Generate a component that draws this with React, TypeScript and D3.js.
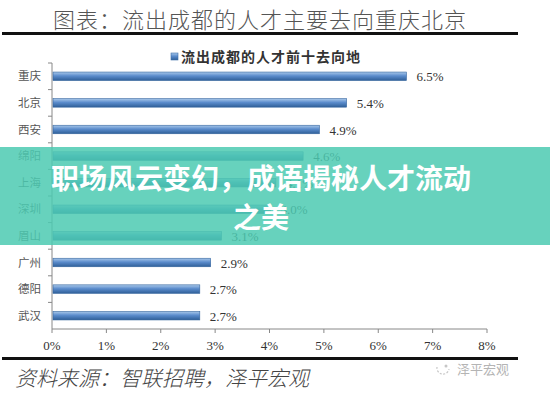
import * as d3 from "d3";

const cities = ["重庆", "北京", "西安", "绵阳", "上海", "深圳", "眉山", "广州", "德阳", "武汉"];
const shares = [6.5, 5.4, 4.9, 4.6, 4.1, 4.0, 3.1, 2.9, 2.7, 2.7];
const xTicks = [0, 1, 2, 3, 4, 5, 6, 7, 8];

const W = 550;
const H = 393;
const CN = "'Noto Sans CJK SC', sans-serif";
const SERIF = "'Liberation Serif', 'DejaVu Serif', serif";

export default function App() {
  const x = d3.scaleLinear().domain([0, 8]).range([52, 487]);
  const y = d3.scaleBand<string>().domain(cities).range([63, 329]).paddingInner(0.68).paddingOuter(0.34);
  const step = y.step();
  const bandTop = (c: string) => (y(c) ?? 0) - step * y.paddingInner() / 2;

  return (
    <svg width={W} height={H} style={{ position: "absolute", left: 0, top: 0, background: "#fff" }}>
      <defs>
        <linearGradient id="bar" x1="0" y1="0" x2="0" y2="1">
          <stop offset="0" stopColor="#a9c8ea" />
          <stop offset="0.45" stopColor="#5b8ccc" />
          <stop offset="1" stopColor="#2f5f98" />
        </linearGradient>
      </defs>

      <text x={260} y={28} textAnchor="middle" fontFamily={CN} fontWeight={300} fontSize={22} letterSpacing={1} fill="#555">
        图表：流出成都的人才主要去向重庆北京
      </text>
      <rect x={2} y={32} width={516} height={3} fill="#111" />

      {/* legend */}
      <rect x={171} y={53} width={7} height={7} fill="url(#bar)" stroke="#3d6ea8" strokeWidth={0.6} />
      <text x={181} y={62} fontFamily={CN} fontWeight={700} fontSize={14} letterSpacing={1} fill="#333">
        流出成都的人才前十去向地
      </text>

      {/* axes */}
      <line x1={x(0)} x2={x(0)} y1={63} y2={329} stroke="#888" />
      <line x1={x(0)} x2={x(8)} y1={329} y2={329} stroke="#888" />
      {cities.map((c) => (
        <line key={"yt" + c} x1={x(0) - 4} x2={x(0)} y1={bandTop(c)} y2={bandTop(c)} stroke="#888" />
      ))}
      {xTicks.map((t) => (
        <g key={"xt" + t}>
          <line x1={x(t)} x2={x(t)} y1={329} y2={333} stroke="#888" />
          <text x={x(t)} y={350} textAnchor="middle" fontFamily={SERIF} fontSize={13} fill="#333">
            {t}%
          </text>
        </g>
      ))}

      {/* bars */}
      {cities.map((c, i) => {
        const by = y(c) ?? 0;
        const bw = y.bandwidth();
        return (
          <g key={c}>
            <text x={41} y={by + bw / 2 + 4} textAnchor="end" fontFamily={CN} fontSize={11.5} fill="#555">
              {c}
            </text>
            <rect x={x(0) + 1} y={by} width={x(shares[i]) - x(0)} height={bw} fill="url(#bar)" stroke="#35659e" strokeWidth={0.6} />
            <text x={x(shares[i]) + 11} y={by + bw / 2 + 5} fontFamily={SERIF} fontSize={13} fill="#333">
              {shares[i].toFixed(1)}%
            </text>
          </g>
        );
      })}

      <rect x={2} y={357} width={516} height={3} fill="#111" />
      <text x={15} y={386} fontFamily={CN} fontStyle="italic" fontWeight={300} fontSize={21} fill="#444">
        资料来源：智联招聘，泽平宏观
      </text>

      {/* watermark */}
      <g opacity={0.55}>
        <path d="M437,367 a6,6 0 1,0 12,2" fill="none" stroke="#999" strokeWidth={1.2} strokeDasharray="2,1.5" />
        <circle cx={446} cy={366} r={1.5} fill="#999" />
        <text x={457} y={374} fontFamily={CN} fontSize={13} fill="#777">泽平宏观</text>
      </g>

      {/* overlay banner */}
      <rect x={0} y={147} width={W} height={98} fill="#4ccab2" opacity={0.85} />
      <text x={261} y={189} textAnchor="middle" fontFamily={CN} fontWeight={700} fontSize={28} fill="#fff">
        职场风云变幻，成语揭秘人才流动
      </text>
      <text x={261} y={228} textAnchor="middle" fontFamily={CN} fontWeight={700} fontSize={28} fill="#fff">
        之美
      </text>
    </svg>
  );
}
